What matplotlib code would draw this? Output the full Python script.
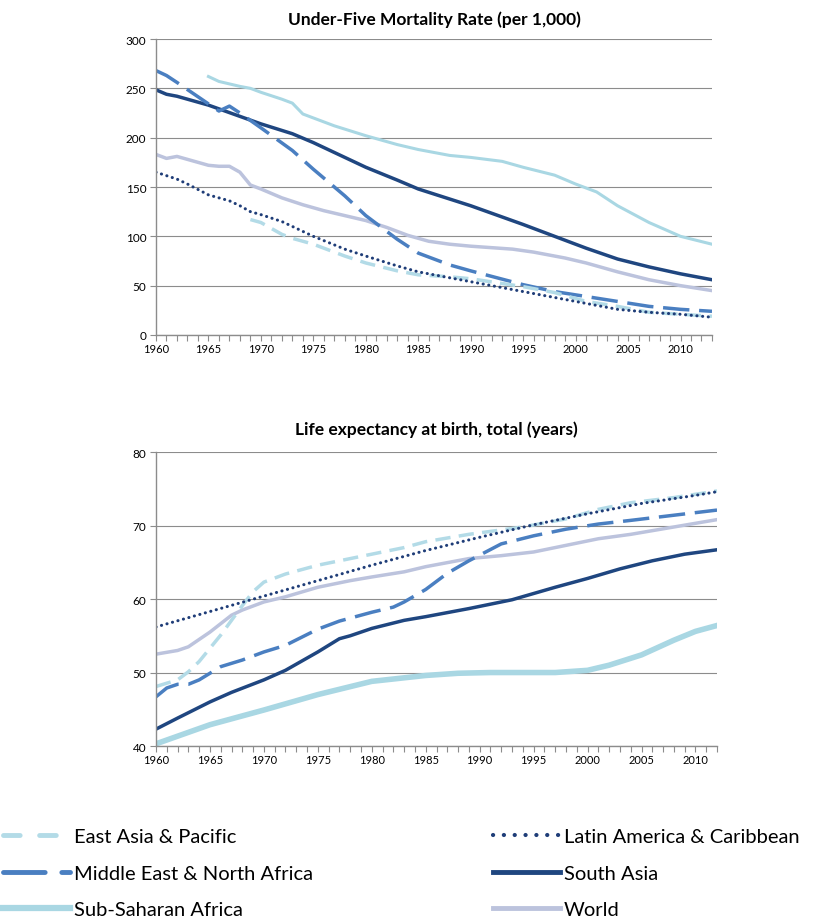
import matplotlib
matplotlib.use("Agg")
import matplotlib.pyplot as plt
from matplotlib.ticker import MultipleLocator
from matplotlib.lines import Line2D

plt.rcParams['font.family'] = ['Lato', 'DejaVu Sans']
plt.rcParams['lines.scale_dashes'] = False

# ---- Under-five mortality (per 1,000) ----
u5_eap_years = [1969, 1970, 1972, 1973, 1975, 1978, 1980, 1983, 1985, 1988, 1990, 1995, 1998, 2001, 2004, 2007, 2010, 2013]
u5_eap = [117, 114, 102, 98, 92, 80, 73, 65, 61, 59, 57, 49, 43, 34, 29, 23, 21, 19]

u5_mena_years = [1960, 1961, 1962, 1966, 1967, 1968, 1970, 1973, 1975, 1978, 1980, 1983, 1985, 1988, 1990, 1995, 1998, 2001, 2004, 2007, 2010, 2013]
u5_mena = [268, 263, 256, 227, 232, 225, 210, 187, 168, 141, 121, 97, 83, 71, 65, 51, 44, 39, 34, 29, 26, 24]

u5_ssa_years = [1965, 1966, 1968, 1969, 1970, 1972, 1973, 1974, 1975, 1977, 1980, 1983, 1985, 1988, 1990, 1993, 1995, 1998, 2000, 2002, 2004, 2007, 2010, 2013]
u5_ssa = [262, 257, 252, 250, 246, 239, 235, 224, 220, 212, 202, 193, 188, 182, 180, 176, 170, 162, 153, 145, 131, 114, 100, 92]

u5_lac_years = [1960, 1962, 1963, 1965, 1967, 1968, 1969, 1970, 1972, 1975, 1978, 1980, 1983, 1985, 1988, 1990, 1995, 1998, 2001, 2004, 2007, 2010, 2013]
u5_lac = [165, 158, 153, 142, 136, 131, 125, 122, 115, 100, 87, 80, 70, 64, 58, 54, 44, 38, 32, 26, 23, 21, 18]

u5_sa_years = [1960, 1961, 1962, 1965, 1970, 1973, 1975, 1978, 1980, 1983, 1985, 1990, 1995, 1998, 2001, 2004, 2007, 2010, 2013]
u5_sa = [248.5, 244, 242, 233, 214, 204, 195, 180, 170, 157, 148, 131, 112, 100, 88, 77, 69, 62, 56]

u5_world_years = [1960, 1961, 1962, 1963, 1964, 1965, 1966, 1967, 1968, 1969, 1970, 1972, 1974, 1976, 1978, 1980, 1982, 1984, 1986, 1988, 1990, 1994, 1996, 1999, 2001, 2004, 2007, 2010, 2013]
u5_world = [183, 179, 181, 178, 175, 172, 171, 171, 165, 152, 148, 139, 132, 126, 121, 116, 109, 101, 95, 92, 90, 87, 84, 78, 73, 64, 56, 50, 45]

# ---- Life expectancy at birth (years) ----
le_eap_years = [1960, 1962, 1963, 1964, 1965, 1966, 1967, 1968, 1969, 1970, 1972, 1975, 1978, 1980, 1983, 1985, 1989, 1994, 1998, 2001, 2004, 2008, 2012]
le_eap = [48.1, 49.0, 50.1, 51.5, 53.3, 55.1, 57.1, 59.1, 61.0, 62.3, 63.4, 64.6, 65.5, 66.1, 67.0, 67.8, 68.8, 69.8, 70.9, 72.2, 73.1, 73.8, 74.7]

le_mena_years = [1960, 1961, 1962, 1963, 1964, 1965, 1966, 1968, 1970, 1972, 1975, 1977, 1978, 1980, 1982, 1983, 1985, 1987, 1989, 1992, 1995, 1998, 2001, 2004, 2008, 2012]
le_mena = [46.7, 47.9, 48.4, 48.4, 49.0, 49.9, 50.8, 51.7, 52.8, 53.7, 55.9, 57.0, 57.4, 58.2, 58.9, 59.6, 61.3, 63.5, 65.2, 67.5, 68.6, 69.5, 70.2, 70.7, 71.4, 72.1]

le_ssa_years = [1960, 1965, 1970, 1975, 1980, 1985, 1988, 1991, 1997, 2000, 2002, 2005, 2008, 2010, 2012]
le_ssa = [40.3, 42.9, 44.9, 47.0, 48.8, 49.6, 49.9, 50.0, 50.0, 50.3, 51.0, 52.4, 54.4, 55.6, 56.4]

le_lac_years = [1960, 1965, 1970, 1975, 1980, 1985, 1990, 1995, 2000, 2005, 2010, 2012]
le_lac = [56.2, 58.3, 60.4, 62.5, 64.6, 66.6, 68.4, 70.1, 71.6, 73.0, 74.1, 74.6]

le_sa_years = [1960, 1962, 1965, 1967, 1970, 1972, 1975, 1977, 1978, 1980, 1983, 1985, 1989, 1993, 1997, 2000, 2003, 2006, 2009, 2012]
le_sa = [42.3, 43.8, 46.0, 47.3, 49.0, 50.3, 52.8, 54.6, 55.0, 56.0, 57.1, 57.6, 58.7, 59.9, 61.6, 62.8, 64.1, 65.2, 66.1, 66.7]

le_world_years = [1960, 1962, 1963, 1965, 1967, 1968, 1970, 1972, 1975, 1978, 1980, 1983, 1985, 1989, 1992, 1995, 1998, 2001, 2004, 2008, 2012]
le_world = [52.5, 53.0, 53.5, 55.5, 57.8, 58.5, 59.6, 60.3, 61.6, 62.5, 63.0, 63.7, 64.4, 65.5, 65.9, 66.4, 67.3, 68.2, 68.8, 69.8, 70.8]

names_left = ["East Asia & Pacific", "Middle East & North Africa", "Sub-Saharan Africa"]
names_right = ["Latin America & Caribbean", "South Asia", "World"]

c_eap = "#b3dbe7"
c_mena = "#4a7fc1"
c_ssa = "#a9d7e3"
c_lac = "#1f3d78"
c_sa = "#1f4680"
c_world = "#bcc3dd"

st_eap = dict(color=c_eap, lw=2.5, dashes=(11, 6))
st_mena = dict(color=c_mena, lw=2.5, dashes=(19, 7))
st_lac = dict(color=c_lac, lw=2.2, dashes=(0.1, 4), dash_capstyle='round')
st_sa = dict(color=c_sa, lw=2.5)
st_world = dict(color=c_world, lw=2.5)

grid_c = "#8c8c8c"


def style_axes(ax, x0, x1):
    ax.set_xlim(x0, x1)
    ax.xaxis.set_major_locator(MultipleLocator(5))
    ax.xaxis.set_minor_locator(MultipleLocator(1))
    ax.tick_params(axis='x', which='both', length=4, width=0.8, color=grid_c, labelsize=8, pad=2)
    ax.tick_params(axis='y', length=4, width=0.8, color=grid_c, labelsize=8.5, pad=3)
    ax.grid(axis='y', color=grid_c, lw=0.8)
    ax.set_axisbelow(True)
    for s in ['top', 'right']:
        ax.spines[s].set_visible(False)
    for s in ['left', 'bottom']:
        ax.spines[s].set_color(grid_c)
        ax.spines[s].set_linewidth(1.0)


fig = plt.figure(figsize=(8.15, 9.2), dpi=100)

ax1 = fig.add_axes([0.1914, 0.6348, 0.6822, 0.3217])
ax1.plot(u5_ssa_years, u5_ssa, color=c_ssa, lw=2.2)
ax1.plot(u5_world_years, u5_world, **st_world)
ax1.plot(u5_sa_years, u5_sa, **st_sa)
ax1.plot(u5_mena_years, u5_mena, **st_mena)
ax1.plot(u5_eap_years, u5_eap, **st_eap)
ax1.plot(u5_lac_years, u5_lac, **st_lac)
ax1.set_ylim(0, 300)
ax1.yaxis.set_major_locator(MultipleLocator(50))
style_axes(ax1, 1960, 2013)
ax1.set_title("Under-Five Mortality Rate (per 1,000)", fontsize=12.5, fontweight='bold', pad=11)

ax2 = fig.add_axes([0.1914, 0.188, 0.6884, 0.3196])
ax2.plot(le_ssa_years, le_ssa, color=c_ssa, lw=4)
ax2.plot(le_world_years, le_world, **st_world)
ax2.plot(le_sa_years, le_sa, **st_sa)
ax2.plot(le_mena_years, le_mena, **st_mena)
ax2.plot(le_eap_years, le_eap, **st_eap)
ax2.plot(le_lac_years, le_lac, **st_lac)
ax2.set_ylim(40, 80)
ax2.yaxis.set_major_locator(MultipleLocator(10))
style_axes(ax2, 1960, 2012)
ax2.set_title("Life expectancy at birth, total (years)", fontsize=12.5, fontweight='bold', pad=13)

# legend handles (Excel draws them with longer dash patterns)
h_left = [
    Line2D([], [], color=c_eap, lw=3.5, dashes=(12, 14), dash_capstyle='round'),
    Line2D([], [], color=c_mena, lw=3.5, dashes=(30, 12), dash_capstyle='round'),
    Line2D([], [], color=c_ssa, lw=4.5),
]
h_right = [
    Line2D([], [], color=c_lac, lw=3, dashes=(0.1, 7.7), dash_capstyle='round'),
    Line2D([], [], color=c_sa, lw=3.5),
    Line2D([], [], color=c_world, lw=3.5),
]
leg_kw = dict(loc='upper left', frameon=False, fontsize=14.5, handlelength=3.3,
              handletextpad=0.2, labelspacing=0.97, borderaxespad=0, borderpad=0)
fig.legend(h_left, names_left, bbox_to_anchor=(0.004, 0.099), **leg_kw)
fig.legend(h_right, names_right, bbox_to_anchor=(0.605, 0.099), **leg_kw)

fig.savefig("out.png", dpi=100)
